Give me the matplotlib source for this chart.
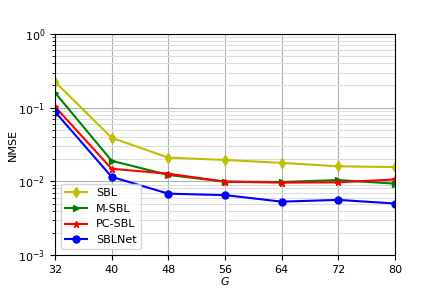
import numpy as np
import matplotlib.pyplot as plt

G = [32, 40, 48, 56, 64, 72, 80]
sbl = [0.225, 0.039, 0.021, 0.0195, 0.0178, 0.016, 0.0156]
msbl = [0.16, 0.019, 0.0122, 0.0099, 0.0098, 0.0104, 0.0093]
pcsbl = [0.103, 0.0148, 0.0127, 0.0099, 0.0096, 0.0097, 0.0106]
sblnet = [0.088, 0.0115, 0.0068, 0.0065, 0.0053, 0.0056, 0.005]

plt.rcParams['font.size'] = 8

fig = plt.figure(figsize=(4.39, 2.92), dpi=100)
ax = fig.add_axes([55 / 439, 1 - 255 / 292, 340 / 439, 221 / 292])

ax.semilogy(G, sbl, 'y-d', markersize=5, label='SBL')
ax.semilogy(G, msbl, 'g->', markersize=5, label='M-SBL')
ax.semilogy(G, pcsbl, 'r-*', markersize=5, label='PC-SBL')
ax.semilogy(G, sblnet, 'b-o', markersize=5, label='SBLNet')

ax.set_xlim(32, 80)
ax.set_ylim(1e-3, 1)
ax.set_xticks(G)
ax.grid(True, which='major', color='#b0b0b0', linewidth=0.8)
ax.grid(True, which='minor', color='#dddddd', linewidth=0.8)
ax.set_xlabel('$G$', labelpad=0)
ax.set_ylabel('NMSE', labelpad=0)
ax.legend(loc='lower left')

plt.savefig('out.png')
